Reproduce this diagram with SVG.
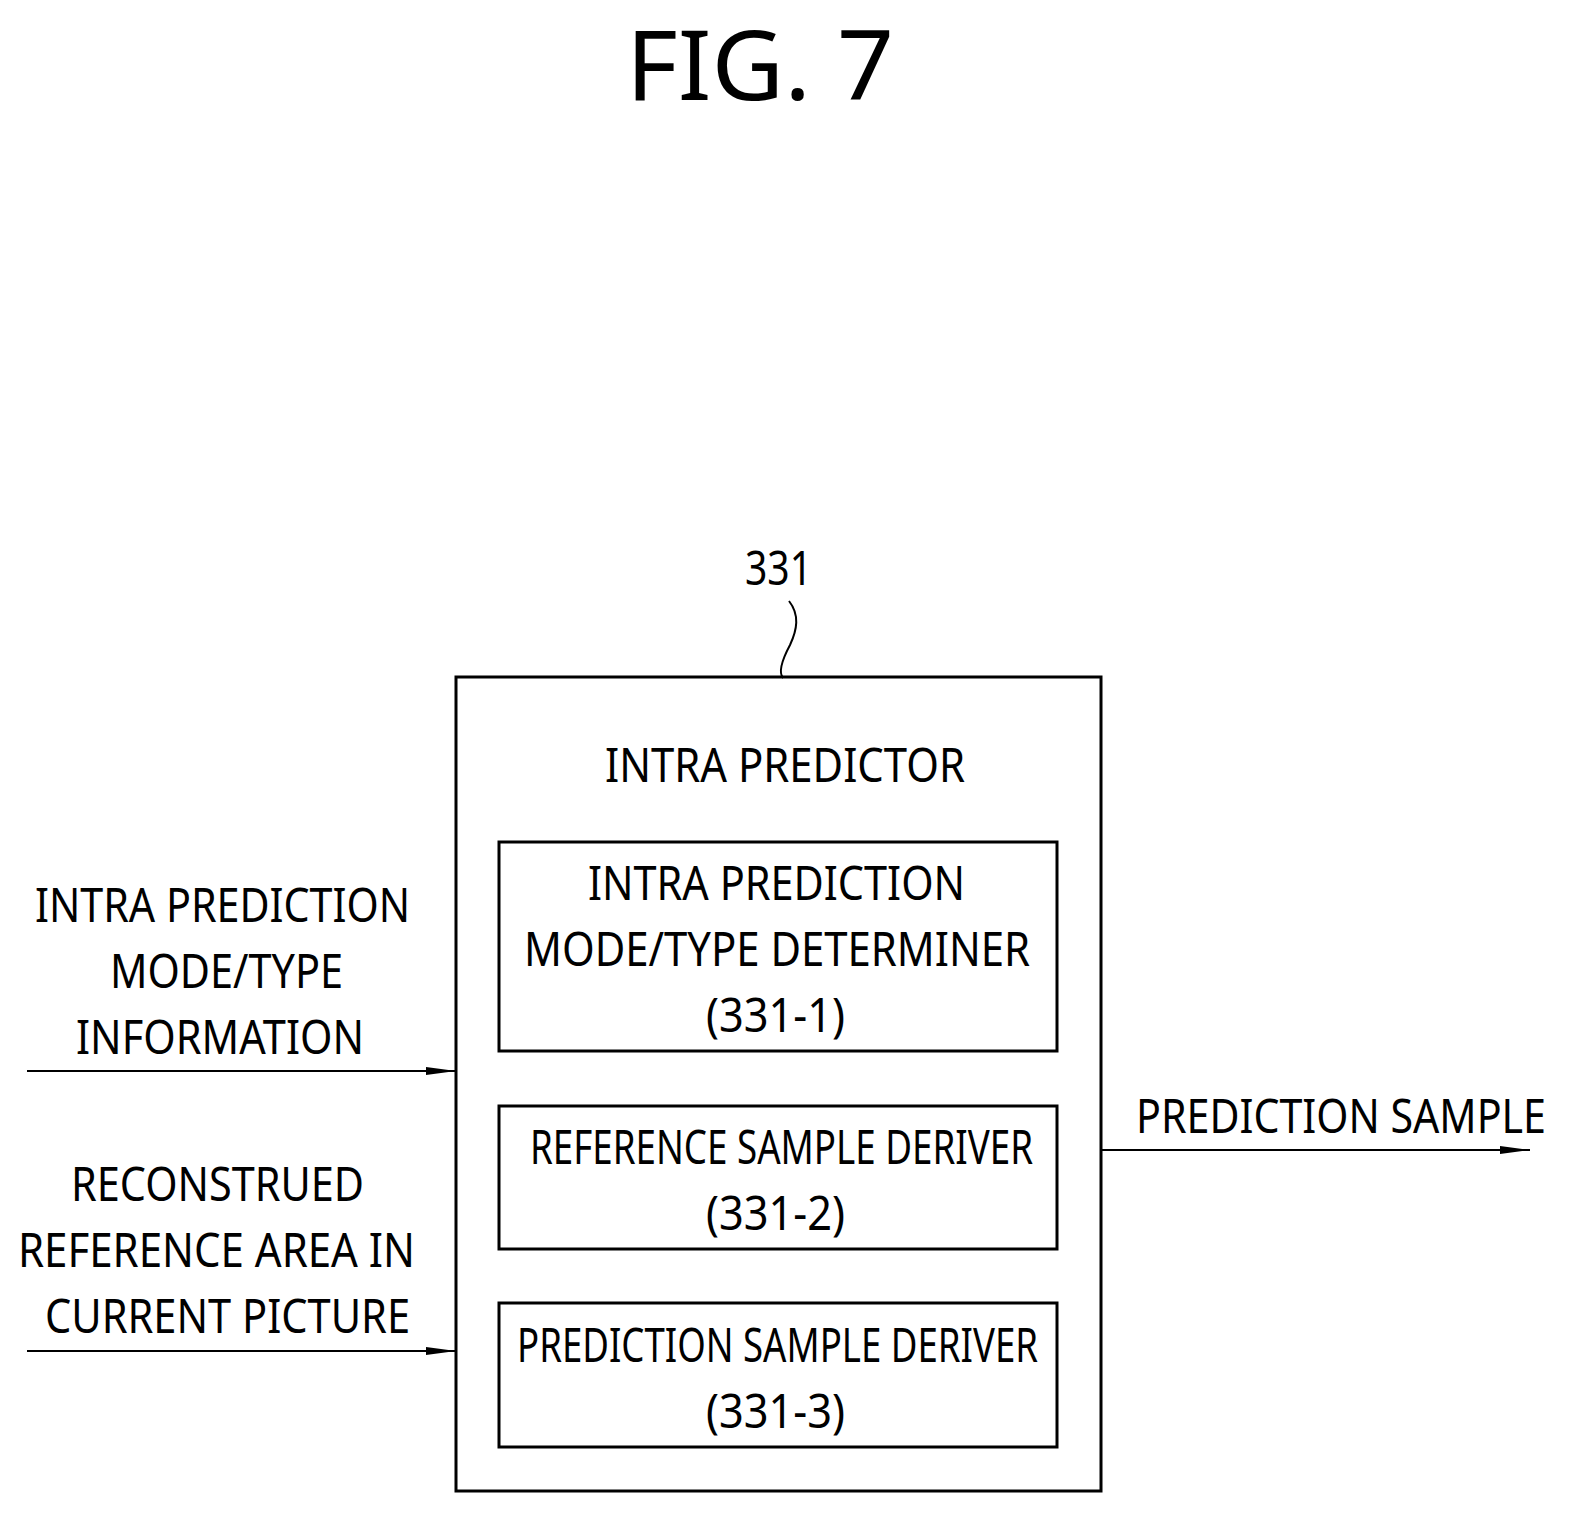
<svg xmlns="http://www.w3.org/2000/svg" width="1582" height="1528" viewBox="0 0 1582 1528">
<style>
text{font-family:"Noto Sans","Liberation Sans",sans-serif;font-size:48px;fill:#000}
.b{fill:none;stroke:#000;stroke-width:3}
.c{fill:none;stroke:#000;stroke-width:2}
</style>
<defs><marker id="a" markerWidth="30" markerHeight="10" refX="30" refY="5" orient="auto" markerUnits="userSpaceOnUse"><path d="M0,1 L30,5 L0,9 z"/></marker></defs>
<rect width="1582" height="1528" fill="#fff"/>
<text x="626" y="100" style="font-size:96px" textLength="268" lengthAdjust="spacingAndGlyphs">FIG. 7</text>
<g id="n331">
<text x="745" y="585" textLength="67" lengthAdjust="spacingAndGlyphs">331</text>
<path class="c" d="M789,601 C800,615 797,630 790,645 C782,660 778,672 783,678"/>
<rect class="b" x="456" y="677" width="645" height="814"/>
<text x="605" y="782" textLength="360" lengthAdjust="spacingAndGlyphs">INTRA PREDICTOR</text>
</g>
<g id="n1">
<rect class="b" x="499" y="842" width="558" height="209"/>
<text x="588" y="900" textLength="377" lengthAdjust="spacingAndGlyphs">INTRA PREDICTION</text>
<text x="524" y="966" textLength="506" lengthAdjust="spacingAndGlyphs">MODE/TYPE DETERMINER</text>
<text x="706" y="1032" textLength="139" lengthAdjust="spacingAndGlyphs">(331-1)</text>
</g>
<g id="n2">
<rect class="b" x="499" y="1106" width="558" height="143"/>
<text x="530" y="1164" textLength="503" lengthAdjust="spacingAndGlyphs">REFERENCE SAMPLE DERIVER</text>
<text x="706" y="1230" textLength="139" lengthAdjust="spacingAndGlyphs">(331-2)</text>
</g>
<g id="n3">
<rect class="b" x="499" y="1303" width="558" height="144"/>
<text x="517" y="1362" textLength="521" lengthAdjust="spacingAndGlyphs">PREDICTION SAMPLE DERIVER</text>
<text x="706" y="1428" textLength="139" lengthAdjust="spacingAndGlyphs">(331-3)</text>
</g>
<g id="labels">
<text x="35" y="922" textLength="375" lengthAdjust="spacingAndGlyphs">INTRA PREDICTION</text>
<text x="110" y="988" textLength="233" lengthAdjust="spacingAndGlyphs">MODE/TYPE</text>
<text x="76" y="1054" textLength="288" lengthAdjust="spacingAndGlyphs">INFORMATION</text>
<text x="71" y="1201" textLength="293" lengthAdjust="spacingAndGlyphs">RECONSTRUED</text>
<text x="18" y="1267" textLength="397" lengthAdjust="spacingAndGlyphs">REFERENCE AREA IN</text>
<text x="45" y="1333" textLength="365" lengthAdjust="spacingAndGlyphs">CURRENT PICTURE</text>
<text x="1136" y="1133" textLength="410" lengthAdjust="spacingAndGlyphs">PREDICTION SAMPLE</text>
</g>
<g id="connectors">
<line class="c" x1="27" y1="1071" x2="456" y2="1071" marker-end="url(#a)"/>
<line class="c" x1="27" y1="1351" x2="456" y2="1351" marker-end="url(#a)"/>
<line class="c" x1="1101" y1="1150" x2="1530" y2="1150" marker-end="url(#a)"/>
</g>
</svg>
